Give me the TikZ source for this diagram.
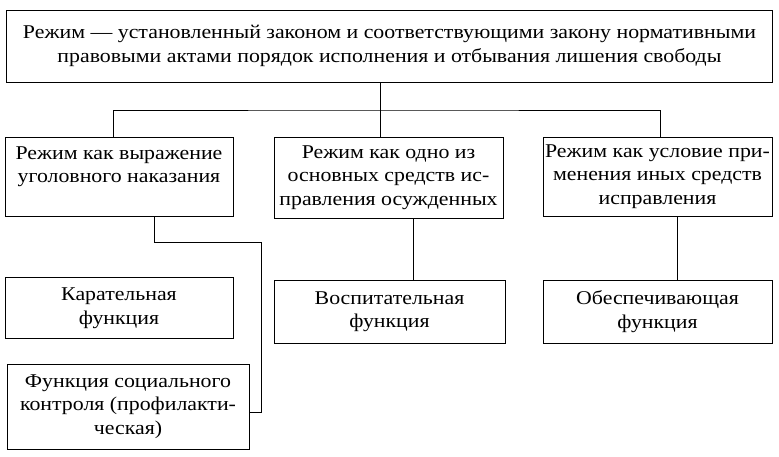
\documentclass[tikz,border=0pt]{standalone}
\usepackage{fontspec}
\setmainfont[FakeStretch=1.12]{Liberation Serif}

\begin{document}
\begin{tikzpicture}[x=1pt,y=1pt,
  box/.style={draw=black, line width=0.9pt, align=center, inner sep=0pt,
    font=\fontsize{19.5}{23.5}\selectfont},
  link/.style={draw=black, line width=0.9pt}]
\useasboundingbox (0,0) rectangle (779,456);
% Definition box
\node[box, minimum width=766, minimum height=72] (regime) at (389.5,410)
  {Режим — установленный законом и соответствующими закону нормативными\\
   правовыми актами порядок исполнения и отбывания лишения свободы};
% Three views of the regime
\node[box, minimum width=228, minimum height=79] (punish) at (119,279.5)
  {Режим как выражение\\уголовного наказания\\\mbox{}};
\node[box, minimum width=229, minimum height=81] (means) at (388.5,278.5)
  {Режим как одно из\\основных средств ис-\\правления осужденных};
\node[box, minimum width=229, minimum height=79] (cond) at (657.5,279.5)
  {Режим как условие при-\\менения иных средств\\исправления};
% Functions
\node[box, minimum width=228, minimum height=61] (punitive) at (119,148)
  {Карательная\\функция};
\node[box, minimum width=231, minimum height=63] (educ) at (389.5,144.5)
  {Воспитательная\\функция};
\node[box, minimum width=229, minimum height=63] (provide) at (657.5,144.5)
  {Обеспечивающая\\функция};
\node[box, minimum width=242, minimum height=85] (social) at (128,49.5)
  {Функция социального\\контроля (профилакти-\\ческая)};
% Bus under the definition box
\coordinate (bus) at (380,346);
\coordinate (knee) at (261,214);
\draw[link] ([xshift=-9.5pt]regime.south) -- ([xshift=-8.5pt]means.north);
\draw[link] ([xshift=-6pt]punish.north) |- (bus) -| ([xshift=2.5pt]cond.north);
% Branches down to the functions
\draw[link] ([xshift=35pt]punish.south) |- (knee) |- ([yshift=-5.5pt]social.east);
\draw[link] ([xshift=24.5pt]means.south) -- ([xshift=23.5pt]educ.north);
\draw[link] ([xshift=19.5pt]cond.south) -- ([xshift=19.5pt]provide.north);
\end{tikzpicture}
\end{document}
